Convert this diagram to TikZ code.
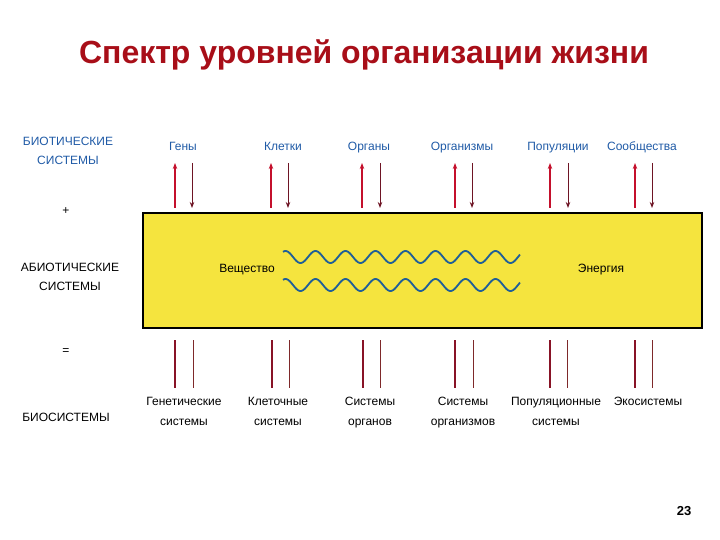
\documentclass[tikz,border=0pt]{standalone}
\usepackage{fontspec}
\setmainfont{Liberation Sans}
\usetikzlibrary{arrows.meta}
\definecolor{titlered}{HTML}{A80E18}
\definecolor{lblblue}{HTML}{1F5AA6}
\definecolor{boxyellow}{HTML}{F5E43E}
\definecolor{upred}{HTML}{C4102C}
\definecolor{downred}{HTML}{6E1424}
\definecolor{wavec}{HTML}{1F5F98}
\tikzset{
  toplbl/.style={font=\fontsize{12}{13}\selectfont, text=lblblue, inner sep=0pt, anchor=base},
  sidelbl/.style={font=\fontsize{12}{19}\selectfont, align=center, inner sep=0pt},
  botlbl/.style={font=\fontsize{12}{20}\selectfont, align=center, inner sep=0pt, anchor=north},
  uparr/.style={draw=upred, line width=1.8pt, -{Stealth[length=6pt,width=4.5pt]}},
  downarr/.style={draw=downred, line width=1pt, -{Stealth[length=6pt,width=4.5pt]}},
  thickbar/.style={draw=downred!70!upred, line width=1.8pt},
  thinbar/.style={draw=downred!80!brown, line width=1pt},
  wave/.style={draw=wavec, line width=1.8pt, line join=round}
}
\begin{document}
\begin{tikzpicture}[x=1pt,y=-1pt]
\useasboundingbox (0,0) rectangle (720,540);
% title
\node[font=\bfseries\fontsize{32}{33}\selectfont, text=titlered] (title) at (364,55) {Спектр уровней организации жизни};
% left labels
\node[sidelbl, text=lblblue] (biot) at (68,151) {БИОТИЧЕСКИЕ\\СИСТЕМЫ};
\node[font=\fontsize{12}{13}\selectfont] (plus) at (66,211) {+};
\node[sidelbl] (abiot) at (70,277) {АБИОТИЧЕСКИЕ\\СИСТЕМЫ};
\node[font=\fontsize{12}{13}\selectfont] (eq) at (66,352) {=};
\node[font=\fontsize{12}{13}\selectfont, inner sep=0pt] (bios) at (66,417) {БИОСИСТЕМЫ};
% yellow box
\node[draw=black, line width=1.3pt, fill=boxyellow, minimum width=559pt, minimum height=115pt, inner sep=0pt] (box) at (422.5,270.5) {};
% top labels
\foreach \n/\x/\t in {g/183/Гены, c/283/Клетки, o/369/Органы, m/462/Организмы, p/558/Популяции, s/642/Сообщества}{
  \node[toplbl] (t\n) at (\x,151) {\t};
}
% arrows (up x, down x)
\foreach \n/\a/\b in {g/175/192, c/271/288, o/362/380, m/455/472, p/550/568, s/635/652}{
  \coordinate (ua\n) at (\a,208);
  \coordinate (ub\n) at (\a,163);
  \coordinate (da\n) at (\b,163);
  \coordinate (db\n) at (\b,208);
  \draw[uparr] (ua\n) -- (ub\n);
  \draw[downarr] (da\n) -- (db\n);
}
% bottom bars
\foreach \n/\a/\b in {g/175/193, c/272/289, o/363/380, m/455/473, p/550/567, s/635/652}{
  \coordinate (la\n) at (\a,340);
  \coordinate (lb\n) at (\a,388);
  \coordinate (ra\n) at (\b,340);
  \coordinate (rb\n) at (\b,388);
  \draw[thickbar] (la\n) -- (lb\n);
  \draw[thinbar] (ra\n) -- (rb\n);
}
% bottom labels
\node[botlbl] (bg) at (184,397) {Генетические\\системы};
\node[botlbl] (bc) at (278,397) {Клеточные\\системы};
\node[botlbl] (bo) at (370,397) {Системы\\органов};
\node[botlbl] (bm) at (463,397) {Системы\\организмов};
\node[botlbl] (bp) at (556,397) {Популяционные\\системы};
\node[botlbl] (bs) at (648,397) {Экосистемы};
% inside box
\node[font=\fontsize{12}{13}\selectfont, inner sep=0pt] (vesh) at (247,270) {Вещество};
\node[font=\fontsize{12}{13}\selectfont, inner sep=0pt] (energ) at (601,270) {Энергия};
\draw[wave] plot[domain=283:520, samples=240] (\x, {257-6*sin((\x-283)*12+60)});
\draw[wave] plot[domain=283:520, samples=240] (\x, {285-6*sin((\x-283)*12+60)});
% page number
\node[font=\bfseries\fontsize{13}{14}\selectfont] (pg) at (684,511) {23};
\end{tikzpicture}
\end{document}
